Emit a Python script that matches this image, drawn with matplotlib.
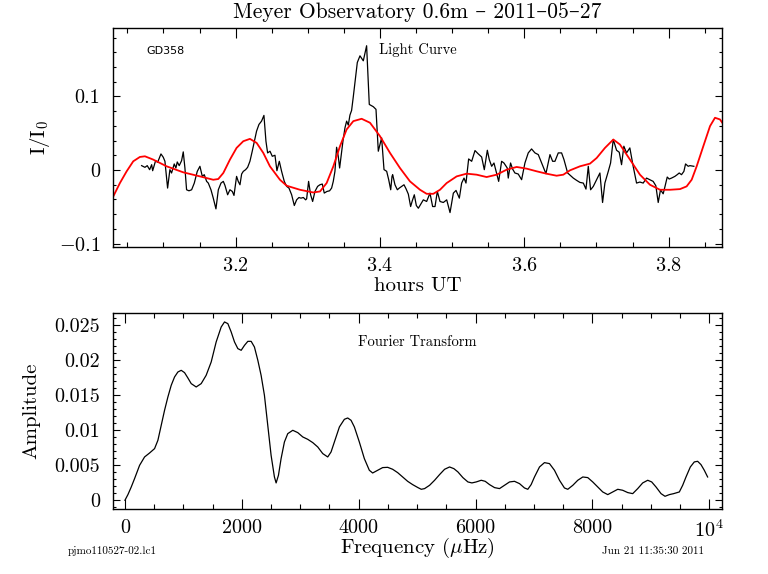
import matplotlib
matplotlib.use('Agg')
import matplotlib.pyplot as plt
from matplotlib.ticker import MultipleLocator, FixedLocator, FixedFormatter

plt.rcParams['font.family'] = ['cmr10', 'DejaVu Serif']
plt.rcParams['mathtext.fontset'] = 'cm'
plt.rcParams['axes.formatter.use_mathtext'] = True

# light curve (hours UT, fractional intensity)
lc_hours = [3.0697, 3.0743, 3.0775, 3.0808, 3.0836, 3.0850, 3.0891, 3.0919, 3.0965, 3.0997,
            3.1020, 3.1057, 3.1089, 3.1112, 3.1149, 3.1172, 3.1191, 3.1218, 3.1251, 3.1274,
            3.1297, 3.1320, 3.1353, 3.1390, 3.1427, 3.1468, 3.1505, 3.1538, 3.1565, 3.1598,
            3.1621, 3.1658, 3.1690, 3.1727, 3.1760, 3.1797, 3.1829, 3.1852, 3.1889, 3.1921,
            3.1954, 3.1977, 3.2013, 3.2036, 3.2060, 3.2083, 3.2106, 3.2138, 3.2166, 3.2198,
            3.2230, 3.2258, 3.2290, 3.2323, 3.2359, 3.2392, 3.2420, 3.2443, 3.2476, 3.2508,
            3.2545, 3.2572, 3.2605, 3.2637, 3.2674, 3.2707, 3.2739, 3.2776, 3.2813, 3.2845,
            3.2877, 3.2905, 3.2938, 3.2970, 3.2984, 3.3011, 3.3039, 3.3067, 3.3099, 3.3136,
            3.3168, 3.3201, 3.3228, 3.3265, 3.3302, 3.3330, 3.3353, 3.3376, 3.3399, 3.3422,
            3.3441, 3.3464, 3.3487, 3.3515, 3.3538, 3.3561, 3.3584, 3.3607, 3.3630, 3.3653,
            3.3686, 3.3723, 3.3769, 3.3815, 3.3852, 3.3908, 3.3945, 3.3977, 3.4023, 3.4056,
            3.4093, 3.4121, 3.4149, 3.4167, 3.4176, 3.4208, 3.4241, 3.4268, 3.4301, 3.4333,
            3.4361, 3.4393, 3.4425, 3.4448, 3.4476, 3.4504, 3.4532, 3.4601, 3.4647, 3.4693,
            3.4730, 3.4763, 3.4795, 3.4832, 3.4878, 3.4925, 3.4971, 3.5017, 3.5054, 3.5100,
            3.5132, 3.5165, 3.5192, 3.5229, 3.5271, 3.5317, 3.5363, 3.5409, 3.5446, 3.5488,
            3.5515, 3.5548, 3.5580, 3.5645, 3.5686, 3.5718, 3.5764, 3.5778, 3.5810, 3.5838,
            3.5870, 3.5916, 3.5963, 3.6009, 3.6055, 3.6101, 3.6148, 3.6194, 3.6240, 3.6300,
            3.6356, 3.6393, 3.6425, 3.6471, 3.6517, 3.6550, 3.6601, 3.6679, 3.6725, 3.6771,
            3.6818, 3.6855, 3.6887, 3.6919, 3.6956, 3.7002, 3.7048, 3.7085, 3.7117, 3.7164,
            3.7196, 3.7233, 3.7279, 3.7316, 3.7348, 3.7380, 3.7417, 3.7463, 3.7509, 3.7556,
            3.7602, 3.7648, 3.7694, 3.7740, 3.7786, 3.7823, 3.7856, 3.7888, 3.7925, 3.7948,
            3.7981, 3.8008, 3.8041, 3.8087, 3.8119, 3.8147, 3.8179, 3.8212, 3.8235, 3.8272,
            3.8295, 3.8350]
lc_flux = [0.0059, 0.0036, 0.0059, 0.0004, 0.0072, -0.0010, 0.0127, 0.0104, 0.0218, 0.0173,
           0.0118, -0.0246, 0.0004, -0.0041, 0.0082, 0.0027, 0.0109, 0.0059, 0.0127, 0.0246,
           0.0027, -0.0269, -0.0283, -0.0269, -0.0178, -0.0019, 0.0050, -0.0087, -0.0064, -0.0155,
           -0.0178, -0.0269, -0.0383, -0.0529, -0.0269, -0.0178, -0.0155, -0.0210, -0.0337, -0.0269,
           -0.0292, -0.0346, -0.0087, -0.0155, -0.0201, -0.0055, -0.0019, 0.0004, 0.0036, 0.0118,
           0.0255, 0.0382, 0.0528, 0.0619, 0.0664, 0.0742, 0.0391, 0.0232, 0.0255, 0.0186,
           0.0200, -0.0010, 0.0118, -0.0019, -0.0155, -0.0223, -0.0246, -0.0337, -0.0483, -0.0406,
           -0.0374, -0.0383, -0.0374, -0.0406, -0.0392, -0.0155, -0.0337, -0.0428, -0.0292, -0.0223,
           -0.0201, -0.0191, -0.0314, -0.0292, -0.0283, -0.0246, -0.0155, -0.0019, 0.0309, 0.0186,
           0.0027, 0.0209, 0.0391, 0.0573, 0.0664, 0.0610, 0.0746, 0.0810, 0.0992, 0.1188,
           0.1461, 0.1552, 0.1484, 0.1689, 0.0891, 0.0860, 0.0824, 0.0255, 0.0437, 0.0005,
           -0.0018, -0.0132, -0.0269, -0.0087, -0.0064, -0.0201, -0.0269, -0.0246, -0.0223, -0.0201,
           -0.0255, -0.0328, -0.0497, -0.0419, -0.0337, -0.0483, -0.0520, -0.0406, -0.0428, -0.0315,
           -0.0497, -0.0497, -0.0292, -0.0428, -0.0442, -0.0406, -0.0579, -0.0315, -0.0278, -0.0383,
           -0.0178, -0.0110, -0.0178, 0.0150, 0.0118, 0.0264, 0.0218, 0.0177, 0.0004, 0.0268,
           0.0141, 0.0050, 0.0095, -0.0155, 0.0118, 0.0095, 0.0027, -0.0110, 0.0095, 0.0013,
           -0.0041, -0.0055, -0.0132, 0.0095, 0.0232, 0.0286, 0.0232, 0.0209, 0.0095, -0.0050,
           0.0209, 0.0118, 0.0118, 0.0232, 0.0232, 0.0141, -0.0041, -0.0110, -0.0141, -0.0169,
           -0.0178, -0.0260, 0.0050, -0.0269, -0.0224, -0.0132, -0.0041, -0.0442, -0.0178, -0.0019,
           0.0095, 0.0414, 0.0268, 0.0241, 0.0072, 0.0323, 0.0232, 0.0300, 0.0050, -0.0178,
           -0.0164, -0.0178, -0.0110, -0.0132, -0.0155, -0.0214, -0.0442, -0.0269, -0.0324, -0.0233,
           -0.0096, -0.0123, -0.0110, -0.0087, -0.0064, -0.0041, -0.0064, -0.0019, 0.0082, 0.0050,
           0.0059, 0.0050]

# smoothed model (red)
fit_hours = [3.0304, 3.0396, 3.0489, 3.0581, 3.0673, 3.0743, 3.0858, 3.1043, 3.1274, 3.1505,
             3.1690, 3.1759, 3.1829, 3.1921, 3.2013, 3.2106, 3.2198, 3.2291, 3.2383, 3.2475,
             3.2614, 3.2707, 3.2891, 3.3076, 3.3169, 3.3261, 3.3354, 3.3446, 3.3538, 3.3631,
             3.3746, 3.3862, 3.4000, 3.4139, 3.4277, 3.4416, 3.4555, 3.4647, 3.4739, 3.4832,
             3.4924, 3.5063, 3.5201, 3.5340, 3.5478, 3.5617, 3.5756, 3.5894, 3.6033, 3.6171,
             3.6310, 3.6448, 3.6541, 3.6633, 3.6772, 3.6910, 3.7003, 3.7118, 3.7234, 3.7326,
             3.7465, 3.7603, 3.7742, 3.7881, 3.8019, 3.8158, 3.8250, 3.8320, 3.8389, 3.8481,
             3.8574, 3.8643, 3.8712, 3.8744]
fit_flux = [-0.0360, -0.0178, -0.0019, 0.0118, 0.0177, 0.0186, 0.0141, 0.0050, -0.0032, -0.0087,
            -0.0133, -0.0123, -0.0041, 0.0141, 0.0300, 0.0391, 0.0423, 0.0368, 0.0232, 0.0050,
            -0.0133, -0.0214, -0.0269, -0.0306, -0.0292, -0.0178, 0.0050, 0.0323, 0.0551, 0.0664,
            0.0696, 0.0642, 0.0460, 0.0232, 0.0027, -0.0155, -0.0269, -0.0324, -0.0324, -0.0269,
            -0.0178, -0.0087, -0.0050, -0.0064, -0.0096, -0.0064, 0.0004, 0.0041, 0.0018, -0.0018,
            -0.0051, -0.0078, -0.0064, -0.0005, 0.0050, 0.0086, 0.0163, 0.0300, 0.0414, 0.0346,
            0.0141, -0.0064, -0.0201, -0.0269, -0.0269, -0.0260, -0.0223, -0.0132, 0.0050, 0.0323,
            0.0596, 0.0710, 0.0687, 0.0642]

# Fourier transform (microHz, amplitude)
ft_freq = [0, 51, 108, 165, 251, 336, 422, 507, 564, 621, 678, 735, 792, 849, 906, 963, 1020,
           1077, 1134, 1219, 1305, 1390, 1476, 1561, 1647, 1704, 1761, 1818, 1875, 1932, 1989,
           2046, 2103, 2160, 2216, 2274, 2330, 2387, 2444, 2501, 2558, 2587, 2627, 2672, 2729,
           2786, 2872, 2957, 3043, 3128, 3214, 3299, 3385, 3470, 3527, 3584, 3670, 3755, 3812,
           3869, 3926, 4011, 4097, 4182, 4239, 4325, 4410, 4496, 4581, 4667, 4752, 4838, 4923,
           5014, 5071, 5128, 5213, 5299, 5384, 5470, 5555, 5629, 5698, 5783, 5869, 5937, 6011,
           6097, 6165, 6239, 6325, 6410, 6495, 6581, 6666, 6752, 6837, 6894, 6951, 7008, 7094,
           7179, 7265, 7350, 7436, 7521, 7578, 7664, 7749, 7835, 7920, 8005, 8091, 8176, 8262,
           8347, 8433, 8518, 8604, 8689, 8775, 8860, 8946, 9014, 9088, 9174, 9242, 9316, 9390,
           9487, 9544, 9601, 9675, 9743, 9800, 9857, 9914, 9971]
ft_amp = [0.0, 0.00081, 0.00190, 0.00310, 0.00500, 0.00619, 0.00676, 0.00738, 0.00857, 0.01071,
          0.01286, 0.01476, 0.01643, 0.01762, 0.01833, 0.01857, 0.01824, 0.01748, 0.01667, 0.01619,
          0.01667, 0.01786, 0.01976, 0.02262, 0.02476, 0.02548, 0.02524, 0.02405, 0.02262, 0.02167,
          0.02143, 0.02214, 0.02271, 0.02271, 0.02190, 0.02000, 0.01786, 0.01500, 0.01071, 0.00643,
          0.00333, 0.00248, 0.00357, 0.00595, 0.00833, 0.00952, 0.01000, 0.00967, 0.00905, 0.00871,
          0.00824, 0.00762, 0.00667, 0.00619, 0.00690, 0.00833, 0.01048, 0.01157, 0.01176, 0.01143,
          0.01048, 0.00833, 0.00595, 0.00429, 0.00390, 0.00429, 0.00467, 0.00471, 0.00443, 0.00395,
          0.00333, 0.00271, 0.00224, 0.00181, 0.00157, 0.00167, 0.00214, 0.00286, 0.00367, 0.00443,
          0.00476, 0.00452, 0.00405, 0.00324, 0.00262, 0.00248, 0.00262, 0.00286, 0.00271, 0.00224,
          0.00181, 0.00167, 0.00214, 0.00262, 0.00271, 0.00238, 0.00176, 0.00157, 0.00224, 0.00333,
          0.00476, 0.00538, 0.00524, 0.00429, 0.00286, 0.00176, 0.00157, 0.00214, 0.00286, 0.00333,
          0.00324, 0.00262, 0.00190, 0.00119, 0.00081, 0.00119, 0.00157, 0.00143, 0.00110, 0.00095,
          0.00167, 0.00248, 0.00286, 0.00262, 0.00190, 0.00095, 0.00057, 0.00081, 0.00095, 0.00119,
          0.00214, 0.00333, 0.00476, 0.00548, 0.00557, 0.00510, 0.00429, 0.00333]

top_yticks = [-0.1, 0, 0.1]
top_ylabels = ['$-$0.1', '0', '0.1']
bot_xticks = [0, 2000, 4000, 6000, 8000, 10000]
bot_xlabels = ['0', '2000', '4000', '6000', '8000', '10$^4$']
bot_yticks = [0, 0.005, 0.01, 0.015, 0.02, 0.025]
bot_ylabels = ['0', '0.005', '0.01', '0.015', '0.02', '0.025']


def style_axes(ax):
    for s in ax.spines.values():
        s.set_linewidth(1.0)
    ax.tick_params(which='both', direction='in', top=True, right=True, width=0.8,
                   labelsize=14.5, colors='black')
    ax.tick_params(axis='x', which='major', length=7, pad=7)
    ax.tick_params(axis='x', which='minor', length=3.5)
    ax.tick_params(axis='y', which='major', length=5, pad=9)
    ax.tick_params(axis='y', which='minor', length=2.5)


fig = plt.figure(figsize=(7.68, 5.74), dpi=100)

ax1 = fig.add_axes([0.1471, 0.5697, 0.7930, 0.3815])
ax1.plot(lc_hours, lc_flux, color='black', lw=0.9)
ax1.plot(fit_hours, fit_flux, color='red', lw=1.3)
ax1.set_xlim(3.030, 3.874)
ax1.set_ylim(-0.1047, 0.193)
ax1.xaxis.set_major_locator(MultipleLocator(0.2))
ax1.xaxis.set_minor_locator(MultipleLocator(0.05))
ax1.yaxis.set_major_locator(FixedLocator(top_yticks))
ax1.yaxis.set_major_formatter(FixedFormatter(top_ylabels))
ax1.yaxis.set_minor_locator(MultipleLocator(0.02))
style_axes(ax1)
ax1.set_xlabel('hours UT', fontsize=15, labelpad=2)
ax1.set_ylabel('I/I$_0$', fontsize=15)
ax1.yaxis.set_label_coords(-0.100, 0.5)
ax1.set_title('Meyer Observatory 0.6m \u2013 2011\u201305\u201327', fontsize=15.5, pad=7)
ax1.text(0.055, 0.88, 'GD358', transform=ax1.transAxes, fontsize=8, family='DejaVu Sans')
ax1.text(0.5, 0.88, 'Light Curve', transform=ax1.transAxes, fontsize=10.5, ha='center')

ax2 = fig.add_axes([0.1467, 0.1127, 0.7934, 0.3425])
ax2.plot(ft_freq, ft_amp, color='black', lw=0.9)
ax2.set_xlim(-210, 10217)
ax2.set_ylim(-0.00129, 0.0268)
ax2.xaxis.set_major_locator(FixedLocator(bot_xticks))
ax2.xaxis.set_major_formatter(FixedFormatter(bot_xlabels))
ax2.xaxis.set_minor_locator(MultipleLocator(500))
ax2.yaxis.set_major_locator(FixedLocator(bot_yticks))
ax2.yaxis.set_major_formatter(FixedFormatter(bot_ylabels))
ax2.yaxis.set_minor_locator(MultipleLocator(0.001))
style_axes(ax2)
ax2.set_xlabel(r'Frequency ($\mu$Hz)', fontsize=15, labelpad=-3)
ax2.set_ylabel('Amplitude', fontsize=15)
ax2.yaxis.set_label_coords(-0.118, 0.5)
ax2.text(0.5, 0.83, 'Fourier Transform', transform=ax2.transAxes, fontsize=10.5, ha='center')

fig.text(112 / 768, 1 - 551 / 574, 'pjmo110527-02.lc1', fontsize=8, ha='center', va='center')
fig.text(653 / 768, 1 - 551 / 574, 'Jun 21 11:35:30 2011', fontsize=8, ha='center', va='center')

fig.savefig('out.png', dpi=100)
